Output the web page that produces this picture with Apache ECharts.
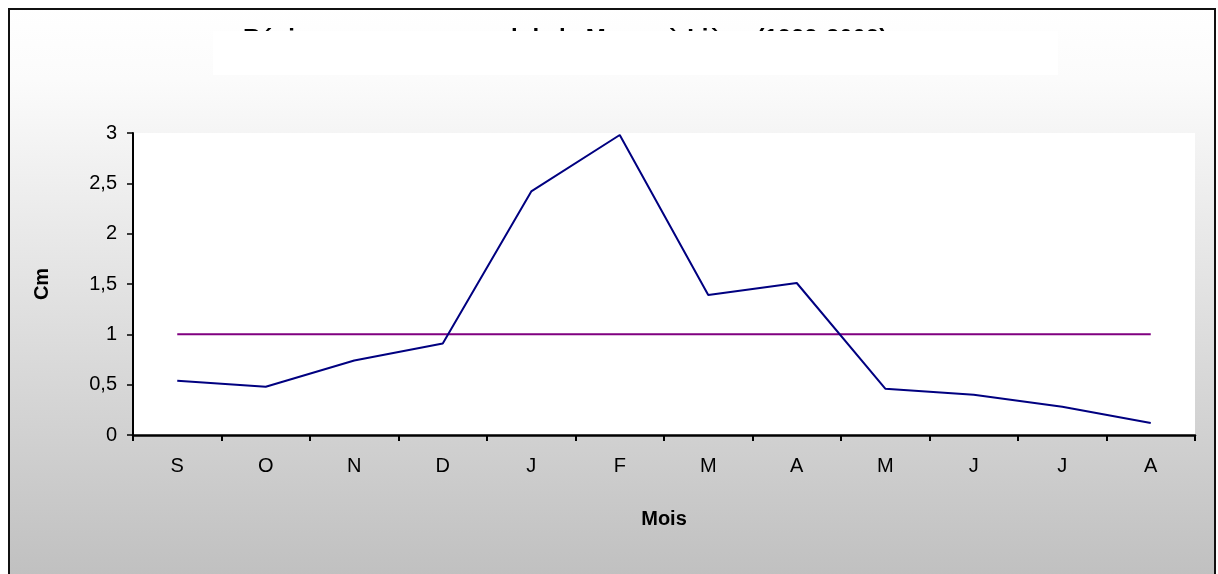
<!DOCTYPE html>
<html>
<head>
<meta charset="utf-8">
<script src="https://cdn.jsdelivr.net/npm/echarts@6/dist/echarts.min.js"></script>
<style>
html,body{margin:0;padding:0;background:#fff;}
#c{width:1218px;height:574px;}
</style>
</head>
<body>
<div id="c"></div>
<script>
var titleText = 'Régime moyen mensuel de la Meuse à Liège (1999-2009)';
var months = ['S','O','N','D','J','F','M','A','M','J','J','A'];
var coefValues = [0.54,0.48,0.74,0.91,2.42,2.98,1.39,1.51,0.46,0.40,0.28,0.12];
var refValues = [1,1,1,1,1,1,1,1,1,1,1,1];
var yTicks = {min:0, max:3, interval:0.5};
var xName = 'Mois';
var yName = 'Cm';

var chart = echarts.init(document.getElementById('c'), null, {renderer:'canvas'});
var font = '"Liberation Sans", Arial, sans-serif';
chart.setOption({
  backgroundColor:'#ffffff',
  animation:false,
  graphic:[
    {type:'rect', z:-10, silent:true,
     shape:{x:9,y:9,width:1206,height:600},
     style:{fill:{type:'linear',x:0,y:0,x2:0,y2:1,colorStops:[{offset:0,color:'#ffffff'},{offset:0.12,color:'#fbfbfb'},{offset:1,color:'#bcbcbc'}]},
            stroke:'#111', lineWidth:2}},
    {type:'text', left:243, top:27, z:50, silent:true,
     style:{text:titleText, font:'bold 24px '+font, fill:'#000'}},
    {type:'rect', z:60, silent:true,
     shape:{x:213,y:31,width:845,height:44},
     style:{fill:'#ffffff'}}
  ],
  grid:{left:133,right:23,top:133,bottom:139,show:true,backgroundColor:'#ffffff',borderWidth:0},
  xAxis:{
    type:'category', data:months, boundaryGap:true,
    name:xName, nameLocation:'middle', nameGap:74,
    nameTextStyle:{fontFamily:font,fontSize:20,fontWeight:'bold',color:'#000'},
    axisLine:{lineStyle:{color:'#000',width:2.5}},
    axisTick:{show:true,interval:0,length:6,lineStyle:{color:'#000',width:2}},
    axisLabel:{margin:21,fontFamily:font,fontSize:20,color:'#000',interval:0},
    splitLine:{show:false}
  },
  yAxis:{
    type:'value', min:yTicks.min, max:yTicks.max, interval:yTicks.interval,
    name:yName, nameLocation:'middle', nameGap:81, nameRotate:90,
    nameTextStyle:{fontFamily:font,fontSize:20,fontWeight:'bold',color:'#000'},
    axisLine:{show:true,lineStyle:{color:'#000',width:2}},
    axisTick:{show:true,length:6,lineStyle:{color:'#000',width:1.5}},
    axisLabel:{margin:16,fontFamily:font,fontSize:20,color:'#000',
      formatter:function(v){return String(v).replace('.',',');}},
    splitLine:{show:false}
  },
  series:[
    {type:'line', data:refValues, symbol:'none', lineStyle:{color:'#800080',width:2}, z:2},
    {type:'line', data:coefValues, symbol:'none', lineStyle:{color:'#000080',width:2}, z:3}
  ]
});
</script>
</body>
</html>
